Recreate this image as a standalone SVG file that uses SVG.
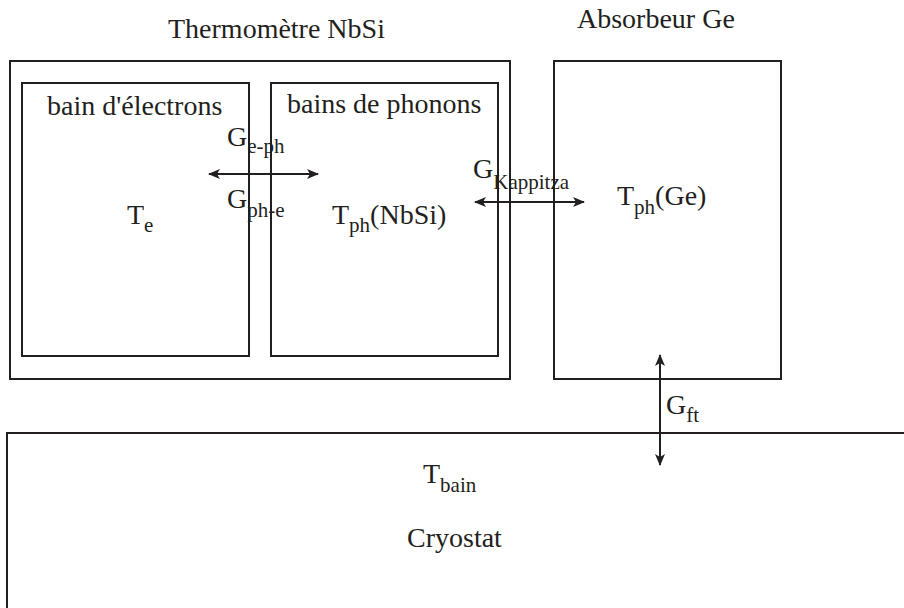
<svg xmlns="http://www.w3.org/2000/svg" width="904" height="608" viewBox="0 0 904 608">
<style>
.box{fill:none;stroke:#231f20;stroke-width:2}
.t{font-family:'Liberation Serif',Tinos,'Times New Roman',Times,'DejaVu Serif',serif;font-size:28px;fill:#231f20}
.s{font-size:21px}
.c{stroke:#231f20;stroke-width:2;fill:none;marker-start:url(#ah);marker-end:url(#ah)}
</style>
<defs>
<marker id="ah" viewBox="0 0 12 10" refX="11" refY="5" markerWidth="12" markerHeight="10" markerUnits="userSpaceOnUse" orient="auto-start-reverse">
<path d="M0,0 L12,5 L0,10 L3,5 Z" fill="#231f20"/>
</marker>
</defs>
<rect width="904" height="608" fill="#fff"/>
<g id="thermometre">
<rect class="box" x="10" y="61" width="500" height="318"/>
<text class="t" x="168" y="38" font-family="Liberation Serif, serif">Thermomètre NbSi</text>
</g>
<g id="electrons">
<rect class="box" x="22" y="83" width="227" height="273"/>
<text class="t" x="47" y="115" font-family="Liberation Serif, serif">bain d'électrons</text>
<text class="t" x="127" y="224" font-family="Liberation Serif, serif">T<tspan class="s" dy="8">e</tspan></text>
</g>
<g id="phonons">
<rect class="box" x="271" y="83" width="227" height="273"/>
<text class="t" x="287" y="113" font-family="Liberation Serif, serif">bains de phonons</text>
<text class="t" x="332" y="224" font-family="Liberation Serif, serif">T<tspan class="s" dy="8">ph</tspan><tspan dy="-8">(NbSi)</tspan></text>
</g>
<g id="absorbeur">
<rect class="box" x="554" y="61" width="227" height="318"/>
<text class="t" x="577" y="28" font-family="Liberation Serif, serif">Absorbeur Ge</text>
<text class="t" x="617" y="205" font-family="Liberation Serif, serif">T<tspan class="s" dy="9">ph</tspan><tspan dy="-9">(Ge)</tspan></text>
</g>
<g id="cryostat">
<path class="box" d="M7,608 V433 H904"/>
<text class="t" x="423" y="483" font-family="Liberation Serif, serif">T<tspan class="s" dy="9">bain</tspan></text>
<text class="t" x="407" y="547" font-family="Liberation Serif, serif">Cryostat</text>
</g>
<g id="connectors">
<line class="c" x1="209" y1="174" x2="318" y2="174"/>
<line class="c" x1="475" y1="202" x2="584" y2="202"/>
<line class="c" x1="660" y1="355" x2="660" y2="465"/>
<text class="t" x="227" y="146" font-family="Liberation Serif, serif">G<tspan class="s" dy="7">e-ph</tspan></text>
<text class="t" x="227" y="208" font-family="Liberation Serif, serif">G<tspan class="s" dy="9">ph-e</tspan></text>
<text class="t" x="473" y="178" font-family="Liberation Serif, serif">G<tspan class="s" dy="11">Kappitza</tspan></text>
<text class="t" x="666" y="414" font-family="Liberation Serif, serif">G<tspan class="s" dy="8">ft</tspan></text>
</g>
</svg>
